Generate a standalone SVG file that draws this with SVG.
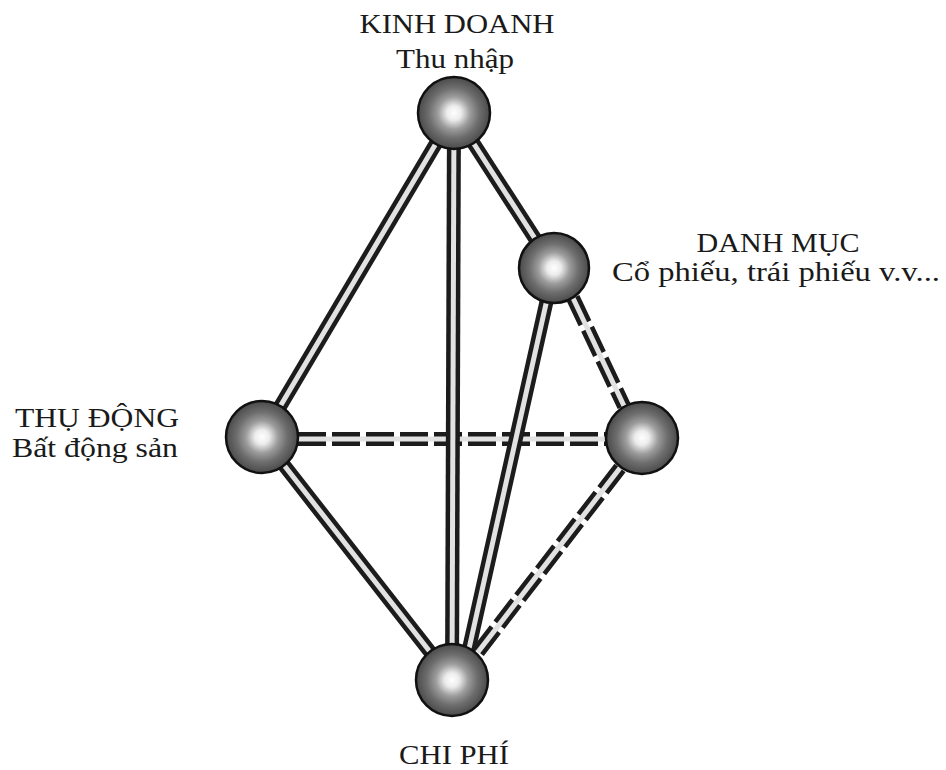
<svg xmlns="http://www.w3.org/2000/svg" width="946" height="770" viewBox="0 0 946 770">
<defs>
<radialGradient id="ball" cx="0.5" cy="0.5" r="0.5">
<stop offset="0" stop-color="#ffffff"/>
<stop offset="0.2" stop-color="#ececec"/>
<stop offset="0.45" stop-color="#9c9c9c"/>
<stop offset="0.7" stop-color="#6e6e6e"/>
<stop offset="1" stop-color="#4a4a4a"/>
</radialGradient>
<style>
.lbl{font-family:"Liberation Serif","DejaVu Serif",serif;font-size:28px;fill:#1a1a1a;text-anchor:middle}
.outer{stroke:#1c1c1c;stroke-width:14;fill:none}
.inner{stroke:#e2e2e2;stroke-width:5;fill:none}
.dash{stroke-dasharray:28 6}
.node circle{fill:url(#ball);stroke:#111;stroke-width:2.5}
</style>
</defs>
<rect width="946" height="770" fill="#ffffff"/>
<g id="connectors">
<!-- dashed double lines -->
<line class="outer dash" x1="298" y1="439" x2="606" y2="439"/>
<line class="inner" x1="298" y1="439" x2="606" y2="439"/>
<line class="outer dash" x1="573" y1="298" x2="624" y2="406"/>
<line class="inner" x1="573" y1="298" x2="624" y2="406"/>
<line class="outer dash" x1="620" y1="468" x2="478" y2="652"/>
<line class="inner" x1="620" y1="468" x2="478" y2="652"/>
<!-- solid double lines -->
<line class="outer" x1="454" y1="113" x2="262" y2="437"/>
<line class="inner" x1="454" y1="113" x2="262" y2="437"/>
<line class="outer" x1="454" y1="113" x2="452" y2="680"/>
<line class="inner" x1="454" y1="113" x2="452" y2="680"/>
<line class="outer" x1="454" y1="113" x2="554" y2="268"/>
<line class="inner" x1="454" y1="113" x2="554" y2="268"/>
<line class="outer" x1="554" y1="268" x2="462" y2="680"/>
<line class="inner" x1="554" y1="268" x2="462" y2="680"/>
<line class="outer" x1="262" y1="437" x2="452" y2="680"/>
<line class="inner" x1="262" y1="437" x2="452" y2="680"/>
</g>
<g id="node-kinh-doanh" class="node">
<circle cx="454" cy="113" r="36"/>
<text class="lbl" x="457" y="33" textLength="195" lengthAdjust="spacingAndGlyphs">KINH DOANH</text>
<text class="lbl" x="455" y="68" textLength="118" lengthAdjust="spacingAndGlyphs">Thu nhập</text>
</g>
<g id="node-danh-muc" class="node">
<circle cx="554" cy="268" r="35"/>
<text class="lbl" x="778" y="252" textLength="163" lengthAdjust="spacingAndGlyphs">DANH MỤC</text>
<text class="lbl" x="776" y="281" textLength="328" lengthAdjust="spacingAndGlyphs">Cổ phiếu, trái phiếu v.v...</text>
</g>
<g id="node-thu-dong" class="node">
<circle cx="262" cy="437" r="36"/>
<text class="lbl" x="97" y="427" textLength="164" lengthAdjust="spacingAndGlyphs">THỤ ĐỘNG</text>
<text class="lbl" x="95" y="457" textLength="166" lengthAdjust="spacingAndGlyphs">Bất động sản</text>
</g>
<g id="node-right" class="node">
<circle cx="642" cy="438" r="36"/>
</g>
<g id="node-chi-phi" class="node">
<circle cx="452" cy="680" r="36"/>
<text class="lbl" x="454" y="764" textLength="110" lengthAdjust="spacingAndGlyphs">CHI PHÍ</text>
</g>
</svg>
